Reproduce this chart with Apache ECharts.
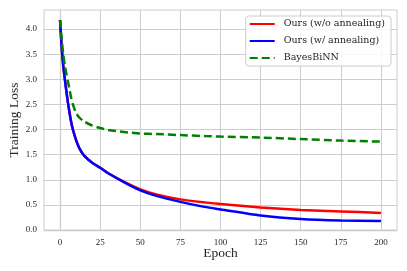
<!DOCTYPE html>
<html>
<head>
<meta charset="utf-8">
<script src="https://cdn.jsdelivr.net/npm/echarts@6/dist/echarts.min.js"></script>
<style>
html,body{margin:0;padding:0;background:#fff;}
#chart{width:407px;height:271px;}
</style>
</head>
<body>
<div id="chart"></div>
<script>
const epochs = [0,1,2,3,4,5,6,7,8,10,12,15,20,25,30,40,50,60,75,90,100,125,150,175,200];
const oursNoAnneal = [4.18,3.65,3.27,3.00,2.75,2.52,2.32,2.14,2.00,1.79,1.63,1.48,1.34,1.24,1.13,0.96,0.81,0.71,0.61,0.55,0.52,0.45,0.40,0.37,0.34];
const oursAnneal   = [4.18,3.65,3.27,3.00,2.75,2.52,2.32,2.14,2.00,1.79,1.63,1.48,1.34,1.24,1.13,0.95,0.79,0.68,0.56,0.46,0.41,0.29,0.22,0.19,0.18];
const bayesBiNN    = [4.18,3.80,3.50,3.27,3.10,2.94,2.78,2.62,2.50,2.33,2.24,2.16,2.08,2.03,1.99,1.95,1.92,1.91,1.89,1.87,1.86,1.84,1.81,1.78,1.76];
const xTicks = [0,25,50,75,100,125,150,175,200];
const yTicks = [0,0.5,1.0,1.5,2.0,2.5,3.0,3.5,4.0];
const seriesNames = ['Ours (w/o annealing)','Ours (w/ annealing)','BayesBiNN'];

const pairs = (ys) => epochs.map((e,i) => [e, ys[i]]);
const FONT = 'Liberation Serif';
const LFONT = 'DejaVu Serif';
const TXT = '#262626';

const chart = echarts.init(document.getElementById('chart'), null, {renderer:'canvas'});
chart.setOption({
  animation:false,
  backgroundColor:'#ffffff',
  grid:{left:44,right:10,top:10,bottom:41,show:true,borderColor:'#cccccc',borderWidth:1,
    containLabel:false,outerBoundsMode:'none'},
  xAxis:{
    type:'value',min:-10,max:210,
    name:'Epoch',nameLocation:'middle',nameGap:16,nameMoveOverlap:false,
    nameTextStyle:{fontFamily:FONT,fontSize:13.5,color:TXT},
    axisLine:{show:true,lineStyle:{color:'#cccccc',width:1.25}},
    axisTick:{show:false,customValues:xTicks},
    axisLabel:{customValues:xTicks,fontFamily:FONT,fontSize:9,color:TXT,margin:8},
    splitLine:{show:true,lineStyle:{color:'#cccccc',width:1}}
  },
  yAxis:{
    type:'value',min:0,max:4.38,
    name:'Training Loss',nameLocation:'middle',nameGap:23,nameRotate:90,nameMoveOverlap:false,
    nameTextStyle:{fontFamily:FONT,fontSize:13.5,color:TXT},
    axisLine:{show:true,lineStyle:{color:'#cccccc',width:1.25}},
    axisTick:{show:false,customValues:yTicks},
    axisLabel:{customValues:yTicks,fontFamily:FONT,fontSize:9,color:TXT,margin:7,
      formatter:(v)=>v.toFixed(1)},
    splitLine:{show:true,lineStyle:{color:'#cccccc',width:1}}
  },
  legend:{
    orient:'vertical',right:16,top:16,
    data:seriesNames,
    itemWidth:25,itemHeight:10,itemGap:7,
    padding:[3,6,3,3],
    borderColor:'#cccccc',borderWidth:1,borderRadius:3,
    backgroundColor:'rgba(255,255,255,0.85)',
    itemStyle:{color:'rgba(0,0,0,0)',borderColor:'rgba(0,0,0,0)',borderWidth:0},
    textStyle:{fontFamily:LFONT,fontSize:9.5,color:TXT,padding:[0,0,0,4]}
  },
  series:[
    {name:seriesNames[0],type:'line',data:pairs(oursNoAnneal),smooth:0.25,showSymbol:false,symbol:'none',
     lineStyle:{color:'#ff0000',width:2.5},itemStyle:{color:'#ff0000'}},
    {name:seriesNames[1],type:'line',data:pairs(oursAnneal),smooth:0.25,showSymbol:false,symbol:'none',
     lineStyle:{color:'#0000ff',width:2.5},itemStyle:{color:'#0000ff'}},
    {name:seriesNames[2],type:'line',data:pairs(bayesBiNN),smooth:0.25,showSymbol:false,symbol:'none',
     lineStyle:{color:'#008000',width:2.5,type:[8,4]},itemStyle:{color:'#008000'}}
  ]
});
</script>
</body>
</html>
